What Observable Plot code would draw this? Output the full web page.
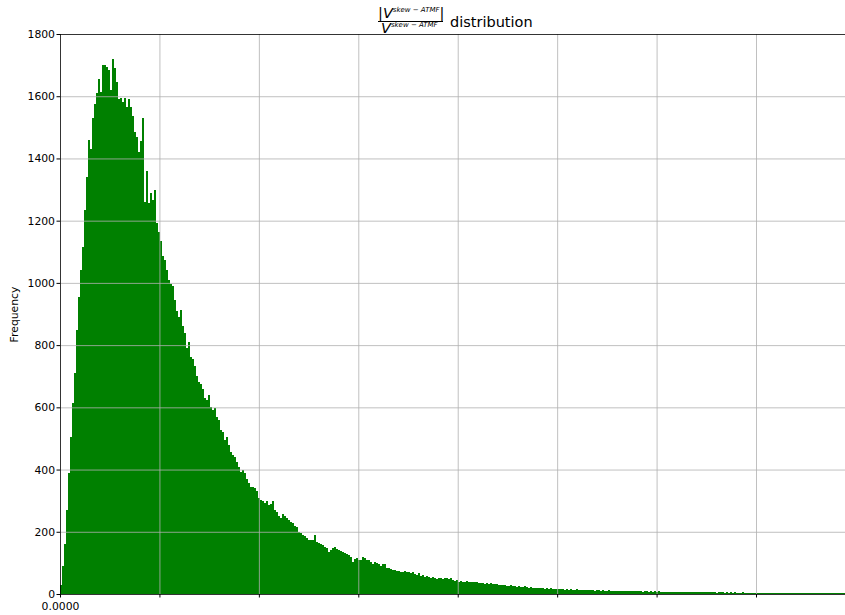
<!DOCTYPE html>
<html><head><meta charset="utf-8">
<script src="https://cdn.jsdelivr.net/npm/d3@7"></script>
<script src="https://cdn.jsdelivr.net/npm/@observablehq/plot@0.6"></script>
<style>
body{margin:0;background:#fff;}
#wrap{position:relative;width:845px;height:615px;font-family:"DejaVu Sans";color:#000;}
.t{position:absolute;white-space:nowrap;line-height:1;z-index:2;font-size:14.5px;}
.sup{font-size:7px;font-style:italic;vertical-align:6.5px;line-height:0;}
#plot{position:absolute;left:0;top:30px;}
</style></head><body>
<div id="wrap">
  <span class="t" style="left:378px;top:5.7px">|<i>V</i><span class="sup">skew − ATMF</span>|</span>
  <div style="position:absolute;left:378px;top:20.5px;width:65px;height:1px;background:#000;z-index:2"></div>
  <span class="t" style="left:381px;top:21.2px"><i>V</i><span class="sup">skew − ATMF</span></span>
  <span class="t" style="left:450px;top:15.2px">distribution</span>
  <div id="plot"></div>
</div>
<script>
// histogram counts, one per bin (bins of equal width from 0)
const counts = [
30,90,160,270,390,505,613,710,850,955,1040,1115,1235,1340,1460,1430,1530,1575,1610,1655,
1615,1700,1700,1695,1685,1620,1720,1690,1645,1590,1595,1582,1593,1565,1590,1565,1535,1485,1470,1420,
1455,1530,1260,1360,1256,1289,1268,1298,1192,1165,1135,1085,1072,1041,1009,998,990,945,910,890,
914,860,840,790,810,762,755,733,700,682,675,660,630,625,640,600,590,598,570,560,
527,520,495,505,480,455,447,440,425,408,392,400,390,370,357,345,345,340,330,308,
302,298,292,300,285,290,300,270,262,250,245,257,250,243,238,232,227,220,216,200,
195,190,185,180,174,172,174,190,168,163,160,158,150,147,136,140,147,152,145,141,
138,136,132,130,125,120,103,112,115,109,110,120,115,110,109,102,98,104,100,98,
90,95,98,85,82,80,78,77,75,74,70,72,74,70,72,68,70,64,62,66,
58,60,56,58,54,52,55,50,48,52,50,47,52,50,48,50,46,43,44,40,
42,40,38,41,40,38,40,37,40,36,34,36,33,35,32,34,33,31,32,30,
29,30,28,27,26,28,25,26,24,26,24,23,25,22,20,21,19,20,18,19,
18,20,17,18,17,18,16,17,15,16,15,16,14,15,14,15,13,14,15,13,
14,12,13,14,12,13,12,11,13,12,11,12,11,10,12,11,10,11,10,11,
10,11,9,10,11,9,10,9,10,9,10,8,9,10,8,9,8,9,8,9,
8,7,8,7,8,7,8,7,6,7,8,6,7,6,7,6,7,6,5,6,
7,5,6,5,6,5,6,5,4,5,6,5,4,5,4,5,4,5,4,3,
4,5,4,3,4,3,4,3,4,3,4,3,2,3,4,3,2,3,3,2,
3,2,3,2,3,2,3,2,2,3,2,2,3,2,2,3,2,2,2,3,
2,2,2,3,2,2,2,2,3,2,2,2,2
];
const binWidth = 0.020115;          // bin width in x units (one x tick step = 1 unit)
const xDomain = [0, 7.895];
const xTicks = [0, 1, 2, 3, 4, 5, 6, 7];
const xTickLabels = ["0.0000", "", "", "", "", "", "", ""];
const yTicks = [0, 200, 400, 600, 800, 1000, 1200, 1400, 1600, 1800];
const yLabel = "Frequency";

const bins = counts.map((c, i) => ({x1: i * binWidth, x2: (i + 1) * binWidth, y: c}));

const chart = Plot.plot({
  width: 845, height: 585,
  marginLeft: 60, marginRight: 0, marginTop: 4, marginBottom: 21,
  style: {fontFamily: "DejaVu Sans", fontSize: "10.8px", background: "transparent", color: "black", overflow: "visible"},
  x: {domain: xDomain, ticks: xTicks, tickFormat: d => xTickLabels[xTicks.indexOf(d)], tickSize: 3.5, tickPadding: 4, label: null},
  y: {domain: [0, 1800], ticks: yTicks, tickFormat: d => String(d), tickSize: 3.5, tickPadding: 2, label: null},
  marks: [
    Plot.rectY(bins, {x1: "x1", x2: "x2", y: "y", fill: "green", insetLeft: 0, insetRight: 0, shapeRendering: "crispEdges"}),
    Plot.ruleX(xTicks.slice(1), {stroke: "#b0b0b0", strokeWidth: 0.8}),
    Plot.ruleY(yTicks.slice(1, -1), {stroke: "#b0b0b0", strokeWidth: 0.8}),
    Plot.ruleX([0], {stroke: "black", strokeWidth: 0.8}),
    Plot.ruleY([0, 1800], {stroke: "black", strokeWidth: 0.8}),
    Plot.text([yLabel], {text: d => d, frameAnchor: "left", dx: -46, rotate: -90, textAnchor: "middle", lineAnchor: "middle", fill: "black", fontSize: 10.8})
  ]
});
document.getElementById("plot").appendChild(chart);
</script>
</body></html>
